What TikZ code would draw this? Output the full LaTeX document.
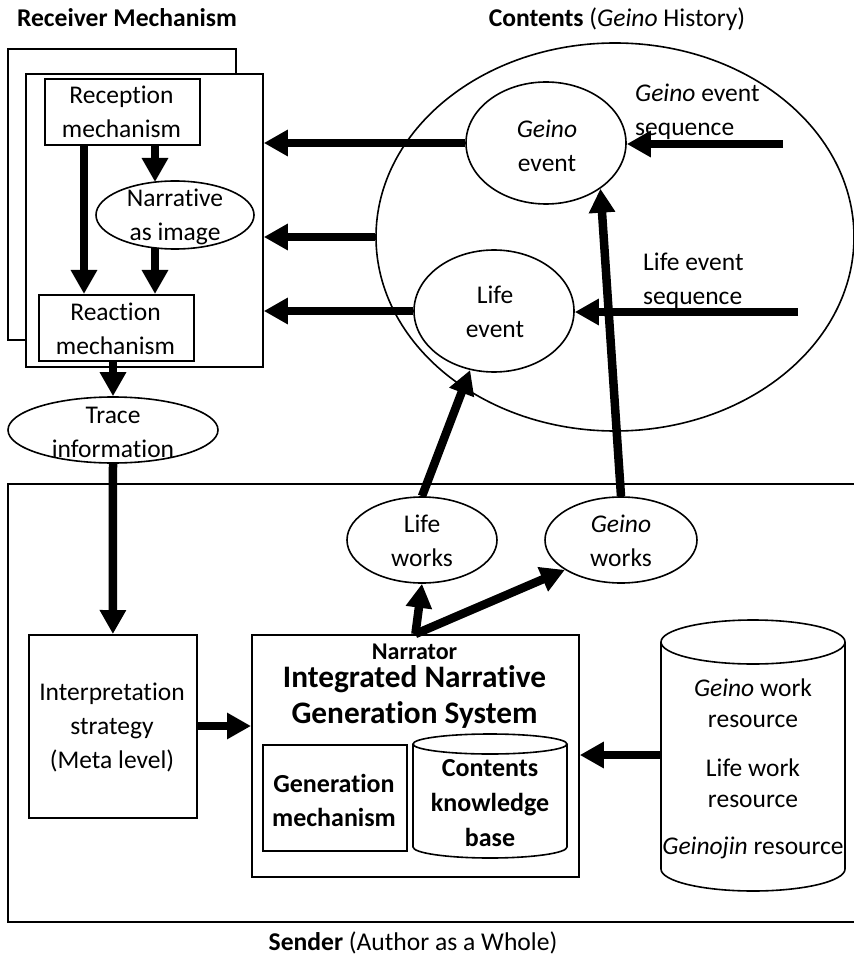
\documentclass[tikz,border=0pt]{standalone}
\usepackage{fontspec}
\setmainfont{Carlito}[Ligatures=NoCommon]
\usetikzlibrary{shapes.geometric,arrows.meta}
\begin{document}
\begin{tikzpicture}[x=1pt,y=-1pt,
  txt/.style={align=center, font=\fontsize{25.5}{34}\selectfont, inner sep=0pt},
  ttl/.style={font=\bfseries\fontsize{25.6}{30}\selectfont, inner sep=0pt},
  box/.style={draw, line width=1.8pt},
  oval/.style={ellipse, draw, line width=1.6pt, inner sep=0pt},
  ghost/.style={draw=none, inner sep=0pt},
  arr/.style={line width=8.5pt, -{Triangle[length=24pt,width=25pt]}},
]
\useasboundingbox (0,0) rectangle (853,957);

% ---- titles ----
\node[ttl] (ttlrecv) at (127,18) {Receiver Mechanism};
\node[ttl] (ttlcont) at (617,19) {Contents \normalfont(\textit{Geino} History)};
\node[ttl] (ttlsend) at (413,943) {Sender \normalfont(Author as a Whole)};

% ---- receiver side ----
\draw[box] (8,49) rectangle (236,340);
\node[box, fill=white, minimum width=237, minimum height=293, anchor=north west] (front) at (25,73) {};
\node[box, minimum width=155, minimum height=66, anchor=north west] (recep) at (44,78) {};
\node[txt] at (121.5,112) {Reception\\mechanism};
\node[oval, minimum width=158, minimum height=68] (narr) at (175,215) {};
\node[txt] at (175,217) {Narrative\\as image};
\node[box, minimum width=155, minimum height=66, anchor=north west] (react) at (38,294) {};
\node[txt] at (115.5,329) {Reaction\\mechanism};
\node[oval, minimum width=210, minimum height=66] (trace) at (113,430) {};
\node[txt] at (113,432) {Trace\\information};

% ---- contents side ----
\node[oval, minimum width=478, minimum height=388] (hist) at (615,237) {};
\node[oval, minimum width=160, minimum height=122] (gev) at (546,143) {};
\node[txt] at (547,146) {\textit{Geino}\\event};
\node[oval, minimum width=160, minimum height=122] (lev) at (494,311) {};
\node[txt] at (495,312) {Life\\event};
\node[txt, align=left, anchor=west] (gseq) at (635,112) {\textit{Geino} event\\sequence};
\node[txt, align=left, anchor=west] (lseq) at (643,281) {Life event\\sequence};
\coordinate (gsrc) at (783,144);
\coordinate (lsrc) at (798,312);

% ---- sender side ----
\draw[box] (8,484) rectangle (862,922);
\node[oval, minimum width=150, minimum height=86] (lworks) at (422,540) {};
\node[txt] at (422,541) {Life\\works};
\node[oval, minimum width=152, minimum height=86] (gworks) at (621,540) {};
\node[txt] at (621,541) {\textit{Geino}\\works};
\node[box, minimum width=168, minimum height=183, anchor=north west] (interp) at (28,634) {};
\node[txt] at (112,727) {Interpretation\\strategy\\(Meta level)};
\node[box, minimum width=327, minimum height=242, anchor=north west] (ings) at (251,634) {};
\node[inner sep=0pt, font=\bfseries\fontsize{24}{28}\selectfont] at (414.5,652) {Narrator};
\node[txt, font=\bfseries\fontsize{31.3}{36}\selectfont] at (414.5,697) {Integrated Narrative\\Generation System};
\node[box, minimum width=144, minimum height=106, anchor=north west] (genm) at (262,744) {};
\node[txt, font=\bfseries\fontsize{26}{34}\selectfont] at (334,800) {Generation\\mechanism};

% contents knowledge base (cylinder)
\node[ghost, minimum width=154, minimum height=124, anchor=north west] (ckb) at (413,734) {};
\draw[line width=1.6pt] (413,744) -- (413,847)
  arc[start angle=180, end angle=0, x radius=77, y radius=11] -- (567,744);
\draw[line width=1.6pt] (490,744) ellipse [x radius=77, y radius=10];
\node[txt, font=\bfseries\fontsize{26}{35}\selectfont] at (490,803) {Contents\\knowledge\\base};

% resource store (cylinder)
\node[ghost, minimum width=184, minimum height=271, anchor=north west] (res) at (661,620) {};
\draw[line width=1.6pt] (661,642) -- (661,869)
  arc[start angle=180, end angle=0, x radius=92, y radius=22] -- (845,642);
\draw[line width=1.6pt] (753,642) ellipse [x radius=92, y radius=22];
\node[txt, font=\fontsize{25.5}{30.5}\selectfont] at (753,703) {\textit{Geino} work\\resource};
\node[txt, font=\fontsize{25.5}{30.5}\selectfont] at (753,783) {Life work\\resource};
\node[txt] at (753,848) {\textit{Geinojin} resource};

% ---- connectors ----
\draw[arr] (recep.south -| 84,0) -- (react.north -| 84,0);
\draw[arr] (recep.south -| 155,0) -- (155,182);
\draw[arr] (155,248) -- (react.north -| 155,0);
\draw[arr] (trace.north |- react.south) -- (trace.north);
\draw[arr] (trace.south) -- (interp.north);

\draw[arr] (gev.west) -- (front.east |- gev.west);
\draw[arr] (hist.west) -- (front.east |- hist.west);
\draw[arr] (lev.west) -- (front.east |- lev.west);
\draw[arr] (gsrc) -- (gev.east |- gsrc);
\draw[arr] (lsrc) -- (lev.east |- lsrc);

\draw[arr] (gworks.north) -- (gev.-40);
\draw[arr] (lworks.north) -- (lev.-112);
\draw[arr] (ings.north) -- (lworks.south);
\draw[arr] (ings.north) -- (gworks.208);

\draw[arr] (interp.east |- 0,726) -- (ings.west |- 0,726);
\draw[arr] (res.west |- 0,755) -- (ings.east |- 0,755);
\end{tikzpicture}
\end{document}
